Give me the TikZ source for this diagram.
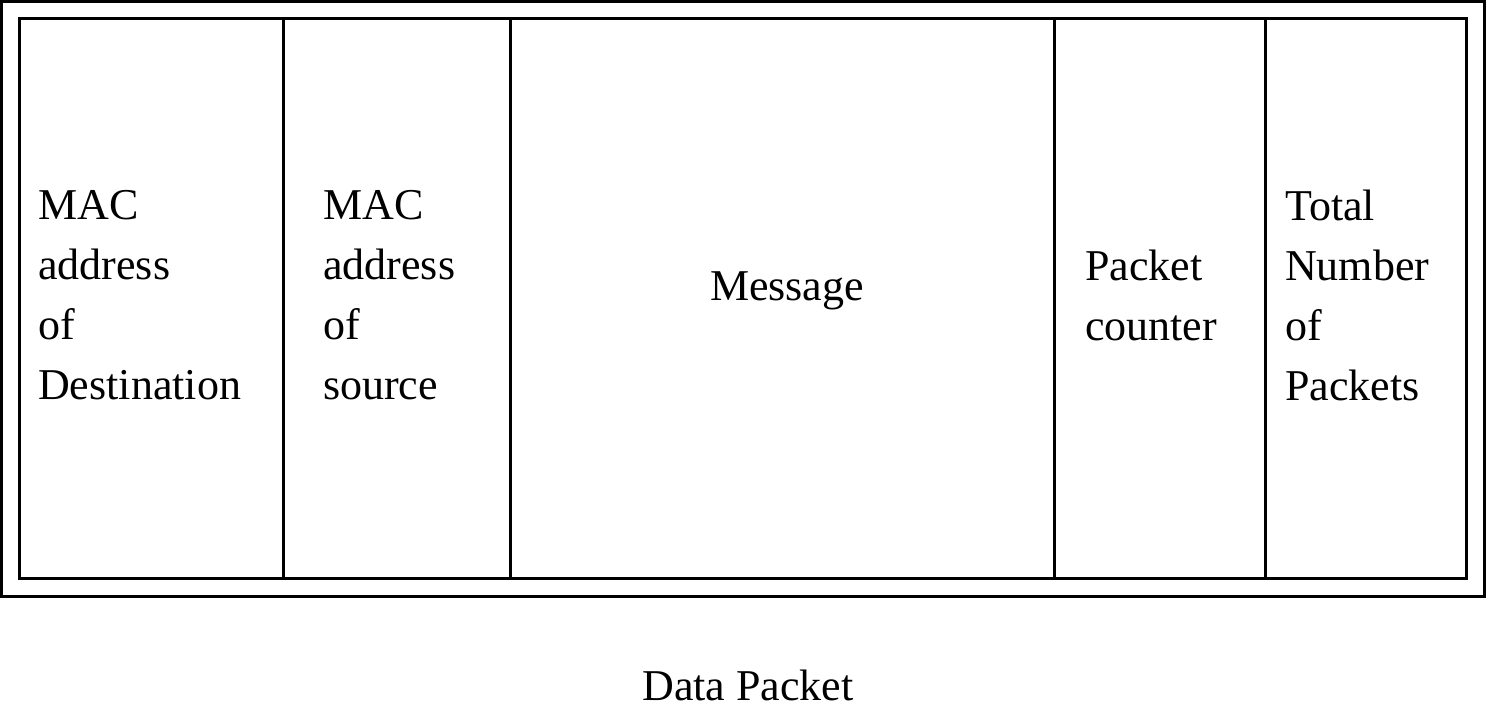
\documentclass[tikz,border=0pt]{standalone}
\usepackage{fontspec}
\setmainfont{Liberation Serif}
\begin{document}
\begin{tikzpicture}[x=1pt,y=-1pt,
  lbl/.style={anchor=north west,inner sep=0pt,align=left,font=\fontsize{44}{60}\selectfont},
  ln/.style={line width=3pt}]
\useasboundingbox (0,0) rectangle (1486,717);
\draw[ln] (1.5,1.5) rectangle (1484,596);
\draw[ln] (19,19) rectangle (1466,578);
\coordinate (t1) at (283,19); \coordinate (b1) at (283,578);
\coordinate (t2) at (510,19); \coordinate (b2) at (510,578);
\coordinate (t3) at (1054,19); \coordinate (b3) at (1054,578);
\coordinate (t4) at (1265,19); \coordinate (b4) at (1265,578);
\draw[ln] (t1)--(b1); \draw[ln] (t2)--(b2); \draw[ln] (t3)--(b3); \draw[ln] (t4)--(b4);
\node[lbl] (a) at (38,190) {MAC\\address\\of\\Destination};
\node[lbl] (b) at (323,190) {MAC\\address\\of\\source};
\node[lbl,anchor=base] (c) at (787,300) {Message};
\node[lbl] (d) at (1085,250) {Packet\\counter};
\node[lbl] (e) at (1285,190) {Total\\Number\\of\\Packets};
\node[lbl,anchor=base] (f) at (748,700) {Data Packet};
\end{tikzpicture}
\end{document}
